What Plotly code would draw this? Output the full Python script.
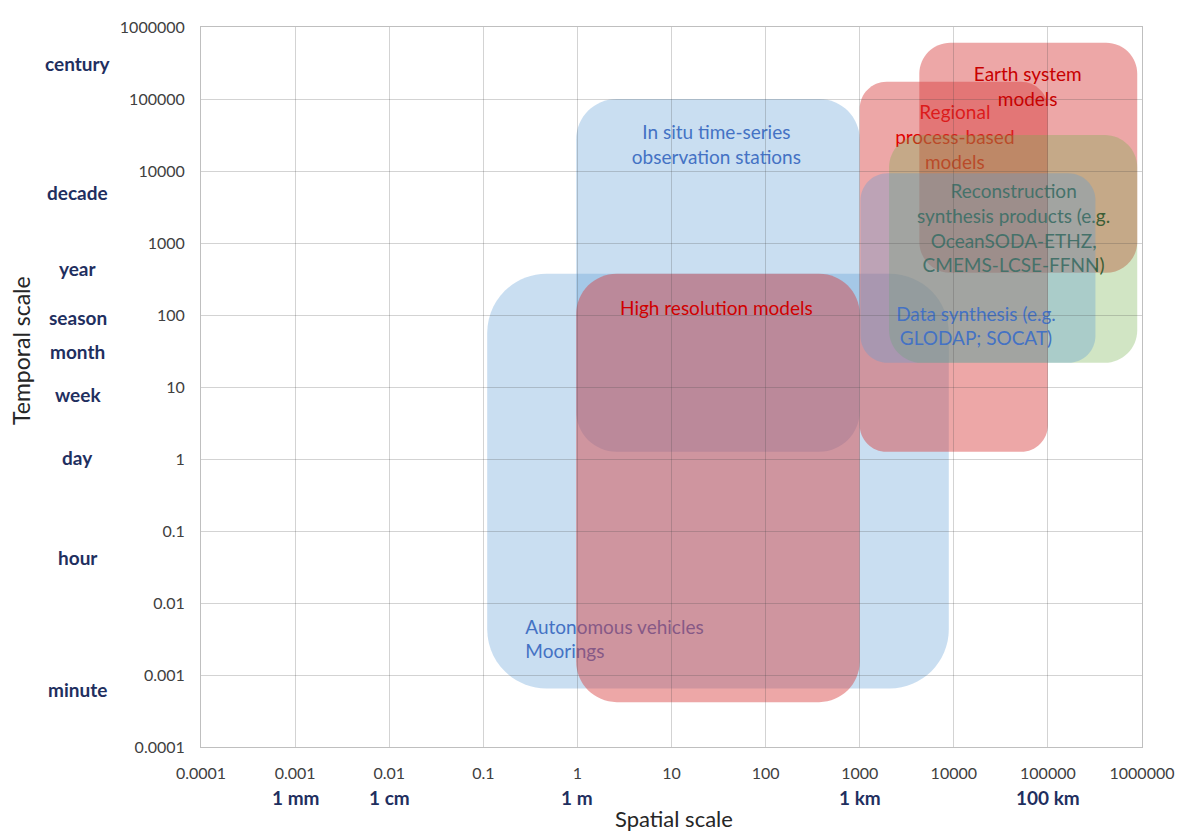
import numpy as np
import plotly.graph_objects as go

# ---------------------------------------------------------------- data
tick_vals = [1e-4, 1e-3, 1e-2, 1e-1, 1, 10, 100, 1000, 1e4, 1e5, 1e6]
tick_text = ["0.0001", "0.001", "0.01", "0.1", "1", "10", "100", "1000",
             "10000", "100000", "1000000"]

# spatial reference lengths (metres)
space_units = ["1 mm", "1 cm", "1 m", "1 km", "100 km"]
space_unit_pos = [0.001, 0.01, 1, 1000, 100000]

# temporal reference labels (days)
time_units = ["century", "decade", "year", "season", "month", "week", "day", "hour", "minute"]
time_unit_pos = [316000, 5000, 440, 91, 31, 7.8, 1.04, 0.043, 0.00063]

# observing / modelling domains, in drawing order
domain_keys = ["auto", "insitu", "hires", "regional", "esm", "recon", "datasyn"]
domain_x_min = [0.11, 0.97, 0.97, 1000, 4300, 2050, 1020]
domain_x_max = [8850, 1000, 1000, 100000, 890000, 890000, 320000]
domain_y_min = [0.00065, 1.26, 0.00042, 1.26, 385, 21.7, 21.7]
domain_y_max = [373, 100000, 373, 174000, 605000, 31700, 9300]

domain_text = [
    "Autonomous vehicles<br>Moorings",
    "In situ time-series<br>observation stations",
    "High resolution models",
    "Regional<br>process-based<br>models",
    "Earth system<br>models",
    "Reconstruction<br>synthesis products (e.g.<br>OceanSODA-ETHZ,<br>CMEMS-LCSE-FFNN)",
    "Data synthesis (e.g.<br>GLODAP; SOCAT)",
]
domain_text_x = [0.26, 30, 30, 10260, 61000, 43200, 17200]
domain_text_y = [0.0032, 23800, 127, 30000, 153000, 1620, 71.3]

# ---------------------------------------------------------------- styling
W, H = 1178, 833
ML, MR, MT, MB = 201, 36, 27, 86
PW, PH = W - ML - MR, H - MT - MB
DEC_X = PW / 10.0   # pixels per decade
DEC_Y = PH / 10.0

FONT = "Lato"
BLUE = "rgba(91,155,213,0.33)"
RED = "rgba(215,60,60,0.45)"
GREEN = "rgba(112,173,71,0.32)"

fills = {"auto": BLUE, "insitu": BLUE, "hires": RED, "regional": RED,
         "esm": RED, "recon": GREEN, "datasyn": BLUE}
text_colors = {"auto": "#4472C4", "insitu": "#4472C4", "hires": "#D00000",
               "regional": "#E00000", "esm": "#C80000", "recon": "#3B5E36",
               "datasyn": "#4472C4"}
text_align = {"auto": "left"}

KAPPA = 0.5523


def fmt(v):
    return np.format_float_positional(v, precision=10, trim="-")


def rounded_box_path(x_lo, x_hi, y_lo, y_hi):
    lx0, lx1 = np.log10(x_lo), np.log10(x_hi)
    ly0, ly1 = np.log10(y_lo), np.log10(y_hi)
    r = min((lx1 - lx0) * DEC_X, (ly1 - ly0) * DEC_Y) / 7.0
    rx, ry = r / DEC_X, r / DEC_Y
    cx, cy = rx * (1 - KAPPA), ry * (1 - KAPPA)

    def p(a, b):
        return f"{fmt(10 ** a)},{fmt(10 ** b)}"

    return (
        f"M{p(lx0 + rx, ly1)} L{p(lx1 - rx, ly1)} "
        f"C{p(lx1 - cx, ly1)} {p(lx1, ly1 - cy)} {p(lx1, ly1 - ry)} "
        f"L{p(lx1, ly0 + ry)} "
        f"C{p(lx1, ly0 + cy)} {p(lx1 - cx, ly0)} {p(lx1 - rx, ly0)} "
        f"L{p(lx0 + rx, ly0)} "
        f"C{p(lx0 + cx, ly0)} {p(lx0, ly0 + cy)} {p(lx0, ly0 + ry)} "
        f"L{p(lx0, ly1 - ry)} "
        f"C{p(lx0, ly1 - cy)} {p(lx0 + cx, ly1)} {p(lx0 + rx, ly1)} Z"
    )


fig = go.Figure()

# an empty trace so the cartesian axes exist
fig.add_trace(go.Scatter(x=[1e-4, 1e6], y=[1e-4, 1e6], mode="markers",
                         marker=dict(opacity=0), hoverinfo="skip", showlegend=False))

shapes = []
for i, key in enumerate(domain_keys):
    shapes.append(dict(
        type="path", xref="x", yref="y", layer="below",
        path=rounded_box_path(domain_x_min[i], domain_x_max[i],
                              domain_y_min[i], domain_y_max[i]),
        fillcolor=fills[key], line=dict(width=0),
    ))
    # caption carried by a transparent box so it sits in the same stacking order
    tx, ty = domain_text_x[i], domain_text_y[i]
    if text_align.get(key) == "left":
        x0, x1, pos = tx, tx * 10, "middle left"
    else:
        x0, x1, pos = tx / 3, tx * 3, "middle center"
    shapes.append(dict(
        type="rect", xref="x", yref="y", layer="below",
        x0=x0, x1=x1, y0=ty / 2, y1=ty * 2,
        fillcolor="rgba(0,0,0,0)", line=dict(width=0),
        label=dict(text=domain_text[i], textposition=pos, padding=0,
                   font=dict(family=FONT, size=19, color=text_colors[key])),
    ))

annotations = []
NAVY = "#1F2F5F"
for name, v in zip(time_units, time_unit_pos):
    annotations.append(dict(
        text=name, x=(78 - ML) / PW, xref="paper", y=np.log10(v), yref="y",
        showarrow=False, xanchor="center", yanchor="middle",
        font=dict(family=FONT, size=19, color=NAVY, weight="bold"),
    ))
for name, v in zip(space_units, space_unit_pos):
    annotations.append(dict(
        text=name, x=np.log10(v), xref="x", y=(H - MB - 797) / PH, yref="paper",
        showarrow=False, xanchor="center", yanchor="middle",
        font=dict(family=FONT, size=19, color=NAVY, weight="bold"),
    ))
annotations.append(dict(
    text="Temporal scale", x=(21 - ML) / PW, xref="paper", y=(H - MB - 351) / PH, yref="paper",
    showarrow=False, textangle=-90, xanchor="center", yanchor="middle",
    font=dict(family=FONT, size=23, color="#262626"),
))
annotations.append(dict(
    text="Spatial scale", x=(674 - ML) / PW, xref="paper", y=(H - MB - 818) / PH, yref="paper",
    showarrow=False, xanchor="center", yanchor="middle",
    font=dict(family=FONT, size=22, color="#262626"),
))

GRID = "rgba(70,70,70,0.24)"
axis_common = dict(
    type="log", range=[-4, 6], tickmode="array", tickvals=tick_vals, ticktext=tick_text,
    showgrid=True, gridcolor=GRID, gridwidth=1, zeroline=False,
    showline=True, linecolor="#BFBFBF", linewidth=1, mirror=True,
    ticks="outside", ticklen=12, tickcolor="rgba(0,0,0,0)",
    tickfont=dict(family=FONT, size=16, color="#404040"),
    fixedrange=True,
)

fig.update_layout(
    width=W, height=H,
    margin=dict(l=ML, r=MR, t=MT, b=MB, autoexpand=False),
    paper_bgcolor="white", plot_bgcolor="white",
    xaxis=axis_common, yaxis=axis_common,
    shapes=shapes, annotations=annotations,
    showlegend=False,
)

fig.write_html("out.html")
